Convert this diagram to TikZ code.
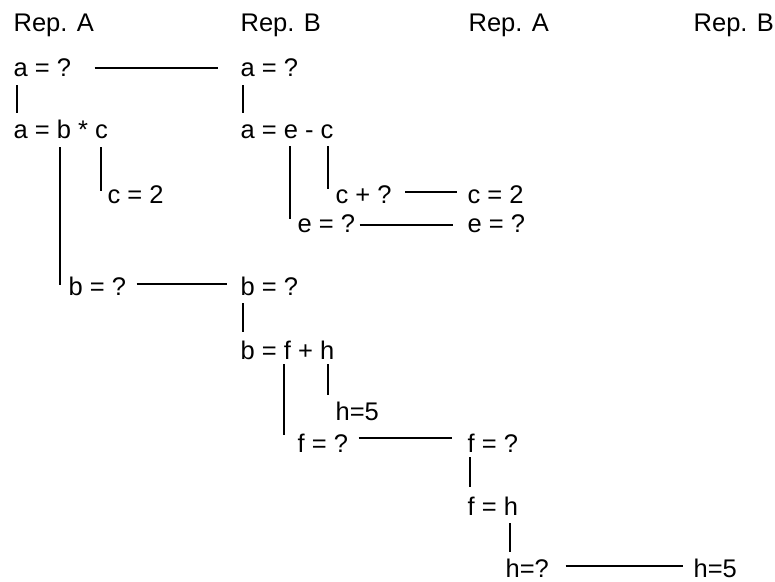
\documentclass[tikz,border=0pt]{standalone}
\usepackage{fontspec}
\setmainfont{Liberation Sans}
\usetikzlibrary{calc}
\tikzset{lbl/.style={anchor=base west, inner sep=0pt, font=\fontsize{25.5}{30}\selectfont}}

\begin{document}
\begin{tikzpicture}[x=1pt, y=1pt, line width=1.3pt]
    \useasboundingbox (0,0) rectangle (775,-581);
    % column titles
    \node[lbl] (tA1) at (13,-31) {Rep. A};
    \node[lbl] (tB1) at (240,-31) {Rep. B};
    \node[lbl] (tA2) at (468,-31) {Rep. A};
    \node[lbl] (tB2) at (693,-31) {Rep. B};
    % first column
    \node[lbl] (aA) at (13,-76) {a = ?};
    \node[lbl] (abcA) at (13,-138) {a = b * c};
    \node[lbl] (cA) at (107,-203) {c = 2};
    \node[lbl] (bA) at (68,-295) {b = ?};
    % second column
    \node[lbl] (aB) at (240,-76) {a = ?};
    \node[lbl] (aecB) at (240,-138) {a = e - c};
    \node[lbl] (cqB) at (335,-203) {c + ?};
    \node[lbl] (eB) at (297,-232) {e = ?};
    \node[lbl] (bB) at (240,-295) {b = ?};
    \node[lbl] (bfhB) at (240,-359) {b = f + h};
    \node[lbl] (hB) at (335,-420) {h=5};
    \node[lbl] (fB) at (297,-452) {f = ?};
    % third and fourth column
    \node[lbl] (cA2) at (467,-203) {c = 2};
    \node[lbl] (eA2) at (467,-232) {e = ?};
    \node[lbl] (fA2) at (467,-452) {f = ?};
    \node[lbl] (fhA2) at (467,-515) {f = h};
    \node[lbl] (hA2) at (505,-577) {h=?};
    \node[lbl] (hB2) at (693,-577) {h=5};

    % tree lines
    \draw ($(aA.base west)+(4,-9)$) -- ($(abcA.base west)+(4,25)$);
    \draw ($(cA.base west |- abcA.base)+(-6,-9)$) -- ($(cA.base west)+(-6,12)$);
    \draw ($(bA.base west |- abcA.base)+(-8,-9)$) -- ($(bA.base west)+(-8,10)$);
    \draw ($(aB.base west)+(3,-9)$) -- ($(aecB.base west)+(3,25)$);
    \draw ($(cqB.base west |- aecB.base)+(-7,-8)$) -- ($(cqB.base west)+(-7,14)$);
    \draw ($(eB.base west |- aecB.base)+(-7,-8)$) -- ($(eB.base west)+(-7,13)$);
    \draw ($(bB.base west)+(3,-8)$) -- ($(bfhB.base west)+(3,27)$);
    \draw ($(hB.base west |- bfhB.base)+(-7,-5)$) -- ($(hB.base west)+(-7,25)$);
    \draw ($(fB.base west |- bfhB.base)+(-13,-5)$) -- ($(fB.base west)+(-13,17)$);
    \draw ($(fA2.base west)+(3,-5)$) -- ($(fhA2.base west)+(3,28)$);
    \draw ($(hA2.base west |- fhA2.base)+(5,-8)$) -- ($(hA2.base west)+(5,25)$);

    % links between the replicas
    \draw ($(aA.base east)+(23,8)$) -- ($(aB.base west)+(-22,8)$);
    \draw ($(cqB.base east)+(13,11)$) -- ($(cA2.base west)+(-10,11)$);
    \draw ($(eB.base east)+(4,7)$) -- ($(eA2.base west)+(-14,7)$);
    \draw ($(bA.base east)+(10,11)$) -- ($(bB.base west)+(-13,11)$);
    \draw ($(fB.base east)+(10,14)$) -- ($(fA2.base west)+(-15,14)$);
    \draw ($(hA2.base east)+(16,11)$) -- ($(hB2.base west)+(-10,11)$);
\end{tikzpicture}
\end{document}
